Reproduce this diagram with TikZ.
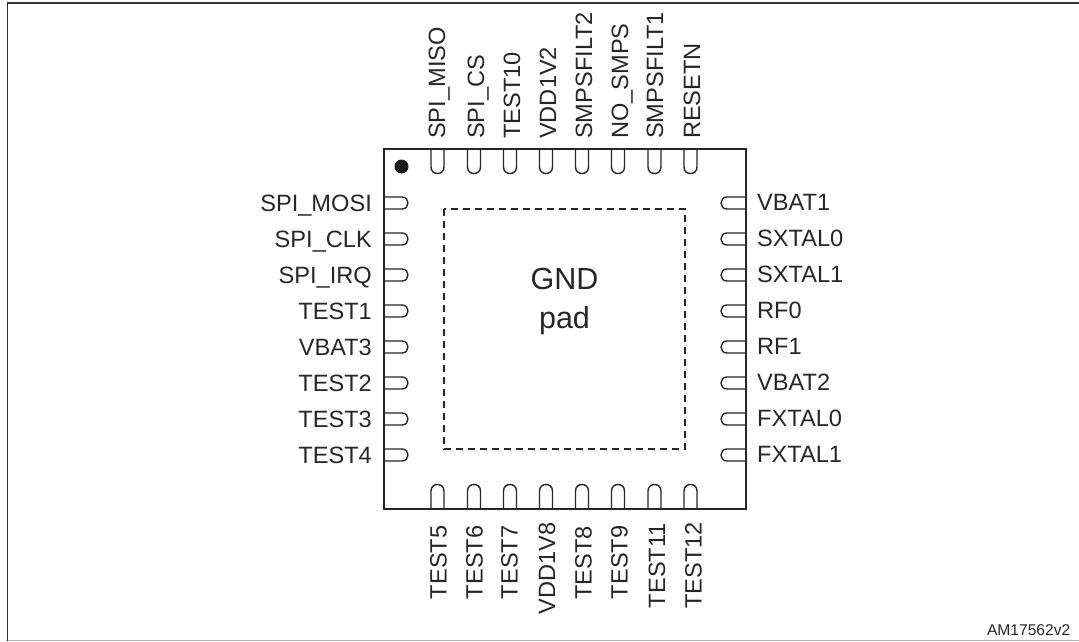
\documentclass[tikz,border=0pt]{standalone}
\usepackage{fontspec}
\setmainfont{Liberation Sans}

\tikzset{
  pinlabel/.style={font=\fontsize{23.6}{23.6}\selectfont, text=black!85, inner sep=0pt},
  padlabel/.style={font=\fontsize{30.5}{30.5}\selectfont, text=black!85, inner sep=0pt, anchor=base},
  pinline/.style={line width=1.4pt, draw=black!85},
}

\begin{document}
\begin{tikzpicture}[x=1pt, y=-1pt]
\useasboundingbox (0,0) rectangle (1079,641);
\draw[line width=1.5pt, draw=black!80] (7.5,641) -- (7.5,3) -- (1079,3);
\draw[line width=1pt, draw=black!30] (7.5,640.5) -- (1079,640.5);

% package outline
\draw[line width=2pt, draw=black!85] (383.5,149) rectangle (745.5,509);
\fill[black!90] (401.5,166.5) circle (7);
\draw[pinline, dash pattern=on 7pt off 5pt] (444,209) rectangle (685,449);
\node[padlabel] (gnd) at (564.5,289) {GND};
\node[padlabel] (pad) at (564.5,328) {pad};

% top
\foreach \x/\b/\name in {437.5/445/SPI\_MISO, 474/484/SPI\_CS, 510/520/TEST10, 546/556/VDD1V2, 582/592/SMPSFILT2, 618/628/NO\_SMPS, 654.5/663/SMPSFILT1, 690.5/700/RESETN}
  {
  \draw[pinline] (\x-6.5,149) -- (\x-6.5,167) .. controls (\x-6.5,175.7) and (\x+6.5,175.7) .. (\x+6.5,167) -- (\x+6.5,149);
  \node[pinlabel, rotate=90, anchor=base west] at (\b,139) {\name};
  }

% bottom
\foreach \x/\b/\e/\name in {437.5/446.5/525.5/TEST5, 474/482.5/525.5/TEST6, 510/517.5/525.5/TEST7, 546/555/522/VDD1V8, 582/591.5/526/TEST8, 618/627.5/525.5/TEST9, 654.5/665/523/TEST11, 690.5/701.5/522/TEST12}
  {
  \draw[pinline] (\x-6.5,509) -- (\x-6.5,491) .. controls (\x-6.5,482.3) and (\x+6.5,482.3) .. (\x+6.5,491) -- (\x+6.5,509);
  \node[pinlabel, rotate=90, anchor=base east] at (\b,\e) {\name};
  }

% left
\foreach \y/\name in {203/SPI\_MOSI, 239/SPI\_CLK, 275/SPI\_IRQ, 311/TEST1, 347/VBAT3, 383/TEST2, 419/TEST3, 455/TEST4}
  {
  \draw[pinline] (383.5,\y-6) -- (402,\y-6) .. controls (410,\y-6) and (410,\y+6) .. (402,\y+6) -- (383.5,\y+6);
  \node[pinlabel, anchor=base east] at (372,\y+8) {\name};
  }

% right
\foreach \y/\name in {203/VBAT1, 239/SXTAL0, 275/SXTAL1, 311/RF0, 347/RF1, 383/VBAT2, 419/FXTAL0, 455/FXTAL1}
  {
  \draw[pinline] (745.5,\y-6) -- (727,\y-6) .. controls (719,\y-6) and (719,\y+6) .. (727,\y+6) -- (745.5,\y+6);
  \node[pinlabel, anchor=base west] at (757,\y+7) {\name};
  }

\node[font=\fontsize{15.6}{15.6}\selectfont, text=black!85, anchor=base east, inner sep=0pt] (code) at (1070.5,635) {AM17562v2};
\end{tikzpicture}
\end{document}
